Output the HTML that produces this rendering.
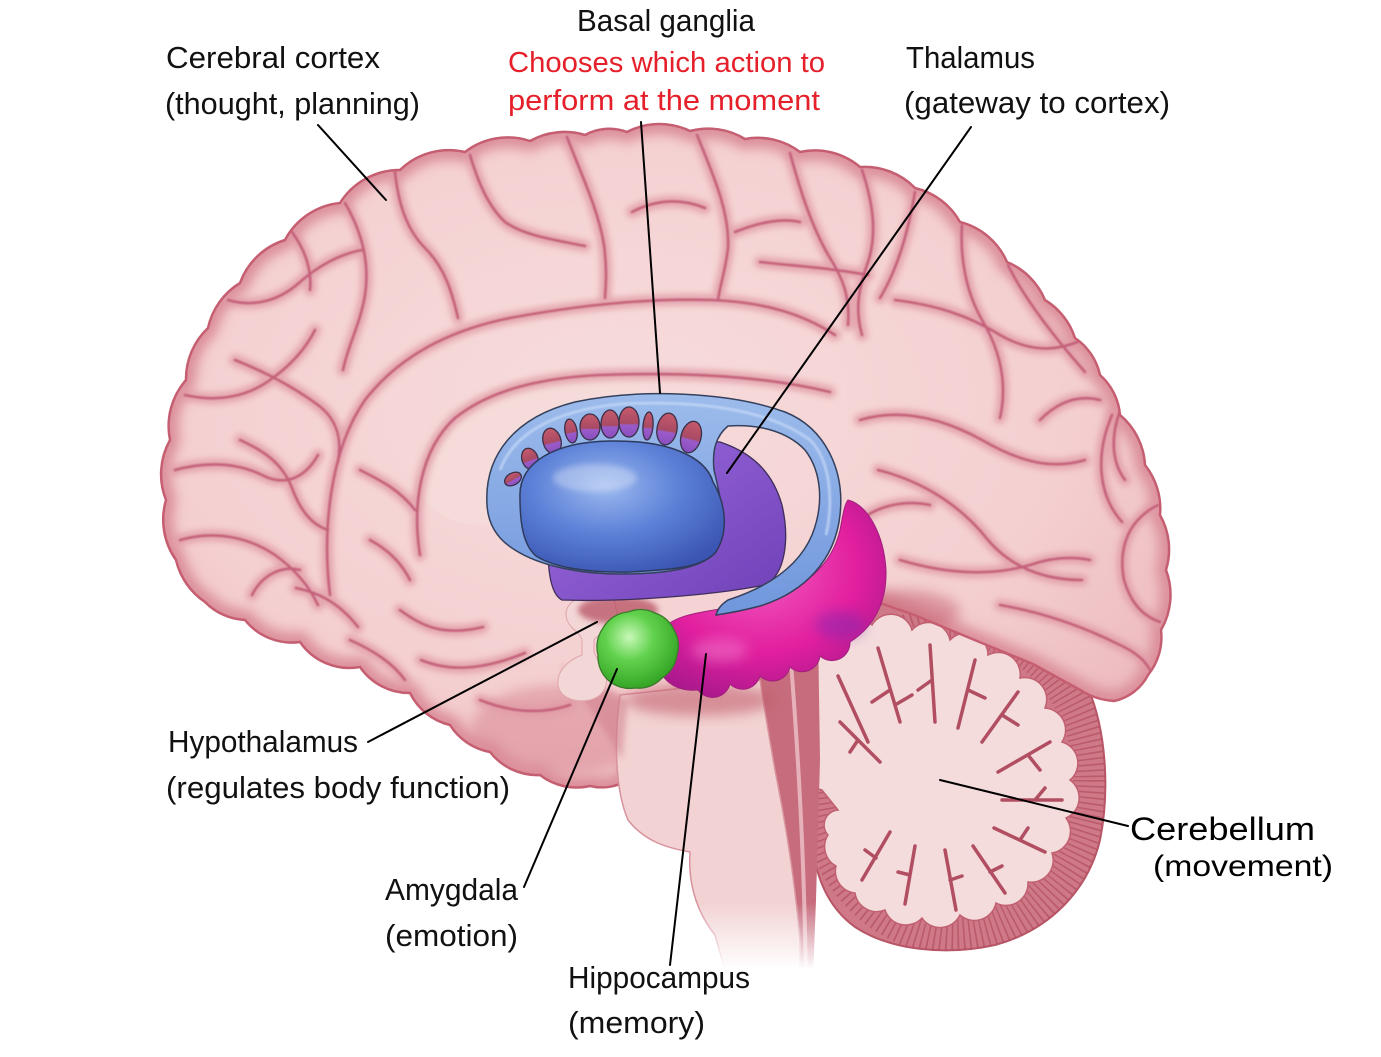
<!DOCTYPE html>
<html><head><meta charset="utf-8">
<style>
html,body{margin:0;padding:0;background:#fff;}
svg{display:block;}
text{font-family:"Liberation Sans",sans-serif;}
</style></head><body>
<svg width="1381" height="1057" viewBox="0 0 1381 1057" xmlns="http://www.w3.org/2000/svg">
<defs>
 <radialGradient id="gPink" cx="0.45" cy="0.42" r="0.65">
   <stop offset="0" stop-color="#f7dcdc"/>
   <stop offset="0.7" stop-color="#f4cfd0"/>
   <stop offset="1" stop-color="#edbcc1"/>
 </radialGradient>
 <radialGradient id="gBody" cx="0.42" cy="0.35" r="0.7">
   <stop offset="0" stop-color="#9cb9ef"/>
   <stop offset="0.5" stop-color="#5e82d8"/>
   <stop offset="1" stop-color="#3a56b2"/>
 </radialGradient>
 <linearGradient id="gRing" x1="0" y1="0" x2="0" y2="1">
   <stop offset="0" stop-color="#9dbcec"/>
   <stop offset="1" stop-color="#7096dc"/>
 </linearGradient>
 <linearGradient id="gPurple" x1="0" y1="0" x2="1" y2="1">
   <stop offset="0" stop-color="#9e6ee0"/>
   <stop offset="1" stop-color="#7040b8"/>
 </linearGradient>
 <radialGradient id="gMag" cx="0.45" cy="0.35" r="0.7">
   <stop offset="0" stop-color="#f25cc0"/>
   <stop offset="0.6" stop-color="#e21f9f"/>
   <stop offset="1" stop-color="#a8188c"/>
 </radialGradient>
 <radialGradient id="gGreen" cx="0.4" cy="0.35" r="0.65">
   <stop offset="0" stop-color="#c8f8b8"/>
   <stop offset="0.45" stop-color="#62d24e"/>
   <stop offset="1" stop-color="#35a526"/>
 </radialGradient>
 <linearGradient id="gHole" x1="0" y1="0" x2="0" y2="1">
   <stop offset="0" stop-color="#c65a6c"/>
   <stop offset="0.55" stop-color="#a84a64"/>
   <stop offset="0.6" stop-color="#9a5cc8"/>
   <stop offset="1" stop-color="#8a4ec0"/>
 </linearGradient>
 <linearGradient id="fadeG" x1="0" y1="0" x2="0" y2="1">
   <stop offset="0" stop-color="#fff"/>
   <stop offset="0.72" stop-color="#fff"/>
   <stop offset="0.88" stop-color="#000"/>
   <stop offset="1" stop-color="#000"/>
 </linearGradient>
 <mask id="bsMask" maskUnits="userSpaceOnUse" x="580" y="600" width="260" height="420">
   <rect x="580" y="600" width="260" height="420" fill="url(#fadeG)"/>
 </mask>
 <filter id="b1" x="-10%" y="-10%" width="120%" height="120%"><feGaussianBlur stdDeviation="0.7"/></filter>
 <filter id="b3" x="-20%" y="-20%" width="140%" height="140%"><feGaussianBlur stdDeviation="3"/></filter>
 <filter id="b6" x="-30%" y="-30%" width="160%" height="160%"><feGaussianBlur stdDeviation="6"/></filter>

 <path id="cereb" d="M 205,602
  A 70 70 0 0 1 176,560 A 70 70 0 0 1 166,500 A 70 70 0 0 1 170,440
  A 70 70 0 0 1 186,380 A 70 70 0 0 1 208,328 A 70 70 0 0 1 240,283
  A 70 70 0 0 1 285,240 A 70 70 0 0 1 340,203 A 70 70 0 0 1 400,170
  A 70 70 0 0 1 465,152 A 70 70 0 0 1 530,141 A 70 70 0 0 1 585,135
  A 50 50 0 0 1 627,132 A 70 70 0 0 1 690,131 A 70 70 0 0 1 745,139
  A 70 70 0 0 1 800,152 A 70 70 0 0 1 860,167 A 70 70 0 0 1 915,188
  A 70 70 0 0 1 960,222 A 70 70 0 0 1 1007,262 A 70 70 0 0 1 1045,300
  A 70 70 0 0 1 1075,338 A 60 60 0 0 1 1100,375 A 60 60 0 0 1 1120,415
  A 70 70 0 0 1 1145,465 A 70 70 0 0 1 1160,515 A 70 70 0 0 1 1166,570
  A 70 70 0 0 1 1161,630 A 60 60 0 0 1 1148,675 A 50 50 0 0 1 1114,701
  C 1100,700 1090,696 1082,691 L 1033,664 L 977,641 L 912,614 L 871,600
  L 850,598 L 830,602 L 800,640 L 760,660 L 700,690 L 640,720 L 628,780
  A 50 50 0 0 1 590,786 A 60 60 0 0 1 540,775 A 60 60 0 0 1 490,752
  A 60 60 0 0 1 450,725 A 60 60 0 0 1 410,693 A 60 60 0 0 1 360,667
  A 60 60 0 0 1 300,642 A 60 60 0 0 1 245,620 A 60 60 0 0 1 205,602 Z"/>
 <clipPath id="cerebClip"><use href="#cereb"/></clipPath>

 <path id="cbl" d="M 800,700 L 810,640 L 850,592 L 900,592 L 975,622 L 1040,652 L 1088,688
   C 1106,730 1110,790 1100,840 C 1088,890 1050,930 995,945 C 945,956 890,950 855,927
   C 826,906 813,872 811,830 C 809,790 805,740 800,700 Z"/>
 <clipPath id="cblClip"><use href="#cbl"/></clipPath>

 <g id="sulci" fill="none" stroke-linecap="round">
  <path d="M 330,595 C 322,530 330,450 365,400 C 400,355 450,330 510,318 C 580,305 650,298 712,300 C 760,302 800,312 835,335"/>
  <path d="M 420,555 C 412,505 420,450 455,418 C 490,390 540,378 600,375 C 680,372 760,375 830,392"/>
  <path d="M 175,470 C 205,462 235,462 262,475 C 285,487 305,478 318,455"/>
  <path d="M 185,395 C 215,402 245,398 270,380 C 290,366 305,350 315,330"/>
  <path d="M 228,300 C 255,308 280,300 300,282 C 318,266 340,254 362,250"/>
  <path d="M 292,232 C 305,250 312,270 310,290"/>
  <path d="M 395,172 C 398,200 405,228 425,248 C 445,268 452,292 458,318"/>
  <path d="M 345,203 C 362,232 370,262 365,295 C 360,325 348,345 343,370"/>
  <path d="M 235,360 C 265,372 295,388 318,405 C 338,420 342,440 338,462"/>
  <path d="M 180,540 C 215,530 248,537 275,555 C 296,570 310,588 318,605"/>
  <path d="M 240,440 C 262,450 282,462 292,488 C 300,510 312,525 328,530"/>
  <path d="M 470,155 C 478,182 488,206 505,222 C 525,236 555,240 585,246"/>
  <path d="M 252,595 C 262,575 282,565 300,570"/>
  <path d="M 567,137 C 580,172 598,208 604,245 C 607,268 606,282 605,298"/>
  <path d="M 697,135 C 712,172 730,212 728,248 C 726,268 720,285 718,300"/>
  <path d="M 632,212 C 655,200 680,198 705,208"/>
  <path d="M 790,153 C 800,190 812,228 830,258 C 845,282 850,300 848,325"/>
  <path d="M 735,232 C 760,222 782,218 800,222"/>
  <path d="M 760,262 C 795,266 830,268 868,275"/>
  <path d="M 862,170 C 872,200 878,232 868,262 C 858,290 855,310 862,335"/>
  <path d="M 915,192 C 908,232 898,268 880,298"/>
  <path d="M 962,225 C 960,255 965,290 982,320 C 1000,350 1008,382 1000,418"/>
  <path d="M 1008,265 C 1025,300 1055,338 1085,372"/>
  <path d="M 895,300 C 935,305 968,315 1000,335 C 1030,352 1055,352 1082,340"/>
  <path d="M 860,420 C 900,408 942,418 982,440 C 1020,462 1052,470 1085,460"/>
  <path d="M 878,470 C 918,480 958,502 988,540 C 1010,566 1042,580 1082,580"/>
  <path d="M 1112,415 C 1095,455 1098,495 1122,522"/>
  <path d="M 1158,505 C 1128,520 1118,548 1124,580 C 1130,600 1140,615 1160,622"/>
  <path d="M 1000,605 C 1040,612 1080,625 1120,645 C 1135,652 1145,660 1150,670"/>
  <path d="M 900,560 C 940,572 985,578 1030,565 C 1050,558 1070,556 1090,560"/>
  <path d="M 1125,400 C 1110,430 1110,460 1125,480"/>
  <path d="M 296,588 C 315,592 337,600 358,627"/>
  <path d="M 400,610 C 420,625 442,637 483,627"/>
  <path d="M 421,660 C 450,672 483,670 525,653"/>
  <path d="M 480,700 C 510,712 540,715 570,705"/>
  <path d="M 350,640 C 372,650 392,662 405,680"/>
  <path d="M 360,470 C 380,480 400,490 415,510"/>
  <path d="M 370,540 C 385,548 400,560 410,580"/>
  <path d="M 860,520 C 880,505 905,500 930,505"/>
  <path d="M 1040,420 C 1060,400 1080,395 1100,400"/>
 </g>
</defs>

<rect width="1381" height="1057" fill="#fff"/>

<!-- cerebellum -->
<use href="#cbl" fill="#cf7888" stroke="#b85566" stroke-width="2"/>
<g clip-path="url(#cblClip)">
  <ellipse cx="955" cy="780" rx="138" ry="155" fill="none" stroke="#b04e60" stroke-width="40" stroke-dasharray="1.6 4.2" opacity="0.7"/>
</g>
<path fill="#f4dcdc" stroke="#c06070" stroke-width="1.5" d="M 812,680
  A 22 22 0 0 1 835,640 A 22 22 0 0 1 872,625 A 22 22 0 0 1 912,630
  A 22 22 0 0 1 950,640 A 22 22 0 0 1 988,655 A 22 22 0 0 1 1020,678
  A 22 22 0 0 1 1045,708 A 22 22 0 0 1 1062,742 A 22 22 0 0 1 1070,780
  A 22 22 0 0 1 1066,818 A 22 22 0 0 1 1052,853 A 22 22 0 0 1 1028,882
  A 22 22 0 0 1 996,903 A 22 22 0 0 1 960,915 A 22 22 0 0 1 922,918
  A 22 22 0 0 1 885,910 A 22 22 0 0 1 855,893 A 22 22 0 0 1 836,866
  A 22 22 0 0 1 828,835 A 15 15 0 0 1 838,810 L 822,790 A 22 22 0 0 1 815,750
  A 22 22 0 0 1 812,680 Z"/>
<g fill="none" stroke="#b24e62" stroke-width="3.5" stroke-linecap="round">
  <path d="M 878,648 L 900,722 M 890,690 L 872,702 M 895,705 L 912,695"/>
  <path d="M 930,645 L 935,722 M 932,680 L 918,690"/>
  <path d="M 975,660 L 958,728 M 968,690 L 985,698"/>
  <path d="M 1018,692 L 982,742 M 1002,715 L 1018,725"/>
  <path d="M 1050,742 L 998,772 M 1028,755 L 1040,770"/>
  <path d="M 1062,800 L 1002,800 M 1035,800 L 1045,788"/>
  <path d="M 1045,852 L 994,828 M 1020,840 L 1028,828"/>
  <path d="M 1005,893 L 973,846 M 990,872 L 1002,866"/>
  <path d="M 956,910 L 945,850 M 950,880 L 962,876"/>
  <path d="M 905,904 L 915,846 M 910,875 L 898,872"/>
  <path d="M 862,880 L 890,832 M 876,858 L 865,850"/>
  <path d="M 840,722 L 880,762 M 858,740 L 850,752"/>
  <path d="M 838,676 L 868,742"/>
</g>

<!-- cerebrum -->
<use href="#cereb" fill="url(#gPink)"/>
<g clip-path="url(#cerebClip)">
  <use href="#cereb" fill="none" stroke="#db8e9a" stroke-width="20" filter="url(#b6)"/>
  <ellipse cx="560" cy="730" rx="90" ry="45" fill="#d98894" opacity="0.55" filter="url(#b6)"/>
  <ellipse cx="900" cy="612" rx="60" ry="22" fill="#c86878" opacity="0.55" filter="url(#b6)"/>
  <path d="M 417,470 C 420,430 450,400 517,385 C 560,378 600,378 640,380 L 640,400 L 500,522 C 470,530 440,520 425,500 C 418,490 417,480 417,470 Z" fill="#f5dbd9"/>
  <use href="#sulci" stroke="#e09aa5" stroke-width="12" opacity="0.75" filter="url(#b3)"/>
  <use href="#sulci" stroke="#c4617a" stroke-width="2.6" filter="url(#b1)"/>
</g>
<use href="#cereb" fill="none" stroke="#c65e71" stroke-width="2.5"/>

<!-- brainstem -->
<g mask="url(#bsMask)">
  <path d="M 745,640 L 818,628 L 820,760 L 816,900 L 812,1005 L 760,1005 Z" fill="#c66c7c"/>
  <path d="M 620,695 C 614,740 615,790 628,820 C 645,842 668,848 690,852 C 688,880 695,910 715,935 L 735,1005 L 800,1005 L 800,940 C 795,880 785,820 775,770 C 768,730 763,700 760,680 Z" fill="#f2d2d2" stroke="#d7929d" stroke-width="1.5"/>
  <path d="M 790,650 C 798,750 804,850 806,980" fill="none" stroke="#e6b2ba" stroke-width="4"/>
</g>
<ellipse cx="700" cy="700" rx="75" ry="16" fill="#bf5868" opacity="0.55" filter="url(#b6)"/>
<path d="M 560,665 C 575,690 600,720 622,760 L 628,700 Z" fill="#cf7c8a" opacity="0.5" filter="url(#b3)"/>

<!-- hypothalamus / pituitary pale -->
<path d="M 585,598 C 572,598 563,608 567,620 C 571,630 580,632 582,640 L 582,655 C 568,660 556,672 558,685 C 560,698 575,703 590,700 C 605,696 610,683 604,670 C 600,662 596,658 594,652 L 594,640 C 600,632 612,630 618,620 L 614,598 Z" fill="#f3d6d6" stroke="#dfa6ae" stroke-width="1"/>

<ellipse cx="618" cy="610" rx="40" ry="14" fill="#b44a5c" opacity="0.7" filter="url(#b3)"/>

<!-- purple -->
<path d="M 548,548 C 548,575 552,595 562,600 C 620,602 710,596 765,585 C 785,575 790,540 782,505 C 772,470 750,452 720,442 L 600,430 Z" fill="url(#gPurple)" stroke="#3e2e5a" stroke-width="1.3"/>

<!-- magenta hippocampus -->
<path d="M 664,628 C 680,610 720,612 765,600 C 805,588 832,565 840,530 C 843,515 844,505 848,500 C 868,505 884,535 886,570 C 887,605 872,628 850,642 A 18 18 0 0 1 820,656 A 18 18 0 0 1 790,667 A 18 18 0 0 1 760,676 A 18 18 0 0 1 730,684 A 18 18 0 0 1 698,690 C 675,692 660,680 657,660 C 655,648 658,636 664,628 Z" fill="url(#gMag)" stroke="#a0207c" stroke-width="1"/>
<ellipse cx="840" cy="625" rx="25" ry="14" fill="#7a2ab0" opacity="0.45" filter="url(#b6)"/>
<ellipse cx="720" cy="650" rx="28" ry="12" fill="#f27ccc" opacity="0.5" filter="url(#b6)"/>

<!-- green amygdala -->
<path d="M 603,628 A 32 32 0 0 1 628,612 A 32 32 0 0 1 655,613 A 32 32 0 0 1 674,630 A 32 32 0 0 1 677,655 A 32 32 0 0 1 662,678 A 32 32 0 0 1 635,688 A 32 32 0 0 1 608,680 A 32 32 0 0 1 598,655 A 32 32 0 0 1 603,628 Z" fill="url(#gGreen)" stroke="#3a7a2a" stroke-width="1.3"/>

<!-- blue: ring + band + base -->
<path d="M 487,505 C 484,455 515,417 575,402 C 640,388 730,392 785,412 C 825,428 845,470 840,515 C 835,560 805,592 760,606 C 745,610 730,613 716,615 C 718,608 722,604 728,600 C 765,588 798,568 812,535 C 824,505 822,472 805,450 C 786,430 756,424 728,426 C 716,436 712,450 714,470 C 720,495 728,525 716,552 C 700,570 660,574 620,574 C 580,574 540,566 515,550 C 495,538 488,522 487,505 Z" fill="url(#gRing)" stroke="#34405c" stroke-width="1.5"/>
<path d="M 500,470 C 515,430 560,410 620,404 C 700,400 770,410 810,440 C 830,460 834,500 826,535" fill="none" stroke="#c4d8f6" stroke-width="3" opacity="0.7" filter="url(#b1)"/>
<g fill="url(#gHole)" stroke="#3a3048" stroke-width="1.3">
  <ellipse cx="513" cy="479" rx="9" ry="6" transform="rotate(-30 513 479)"/>
  <ellipse cx="530" cy="459" rx="8" ry="11" transform="rotate(-20 530 459)"/>
  <ellipse cx="552" cy="441" rx="9" ry="13" transform="rotate(-15 552 441)"/>
  <ellipse cx="571" cy="431" rx="6" ry="12" transform="rotate(-10 571 431)"/>
  <ellipse cx="590" cy="427" rx="10" ry="13"/>
  <ellipse cx="610" cy="424" rx="9" ry="14"/>
  <ellipse cx="629" cy="422" rx="10" ry="15"/>
  <ellipse cx="648" cy="426" rx="5" ry="14" transform="rotate(5 648 426)"/>
  <ellipse cx="667" cy="429" rx="10" ry="16" transform="rotate(10 667 429)"/>
  <ellipse cx="691" cy="437" rx="10" ry="16" transform="rotate(15 691 437)"/>
</g>
<path d="M 520,498 C 518,462 555,442 610,441 C 665,440 705,455 713,482 C 725,502 730,532 715,553 C 700,569 665,570 630,572 C 590,573 555,568 536,556 C 523,545 520,522 520,498 Z" fill="url(#gBody)" stroke="#2e3a5c" stroke-width="1.5"/>
<ellipse cx="595" cy="478" rx="42" ry="14" fill="#ffffff" opacity="0.3" filter="url(#b3)"/>

<!-- connector lines -->
<g stroke="#000" stroke-width="2" stroke-linecap="round">
  <line x1="318" y1="125" x2="386" y2="200"/>
  <line x1="641" y1="122" x2="660" y2="393"/>
  <line x1="971" y1="127" x2="727" y2="473"/>
  <line x1="368" y1="742" x2="597" y2="622"/>
  <line x1="524" y1="887" x2="617" y2="669"/>
  <line x1="670" y1="965" x2="706" y2="654"/>
  <line x1="940" y1="780" x2="1128" y2="826"/>
</g>

<!-- labels -->
<g fill="#111" font-size="31">
  <text x="577" y="31" textLength="178" lengthAdjust="spacingAndGlyphs">Basal ganglia</text>
  <text x="166" y="68" textLength="214" lengthAdjust="spacingAndGlyphs">Cerebral cortex</text>
  <text x="165" y="114" textLength="255" lengthAdjust="spacingAndGlyphs">(thought, planning)</text>
  <text x="906" y="68" textLength="129" lengthAdjust="spacingAndGlyphs">Thalamus</text>
  <text x="904" y="113" textLength="266" lengthAdjust="spacingAndGlyphs">(gateway to cortex)</text>
  <text x="168" y="752" textLength="190" lengthAdjust="spacingAndGlyphs">Hypothalamus</text>
  <text x="166" y="798" textLength="344" lengthAdjust="spacingAndGlyphs">(regulates body function)</text>
  <text x="385" y="900" textLength="133" lengthAdjust="spacingAndGlyphs">Amygdala</text>
  <text x="385" y="946" textLength="133" lengthAdjust="spacingAndGlyphs">(emotion)</text>
  <text x="568" y="988" textLength="182" lengthAdjust="spacingAndGlyphs">Hippocampus</text>
  <text x="568" y="1033" textLength="137" lengthAdjust="spacingAndGlyphs">(memory)</text>
</g>
<g fill="#000" font-size="32">
  <text x="1130" y="840" textLength="185" lengthAdjust="spacingAndGlyphs">Cerebellum</text>
  <text x="1153" y="876" font-size="30" textLength="180" lengthAdjust="spacingAndGlyphs">(movement)</text>
</g>
<g fill="#e5202a" font-size="29">
  <text x="508" y="72" textLength="317" lengthAdjust="spacingAndGlyphs">Chooses which action to</text>
  <text x="508" y="110" textLength="312" lengthAdjust="spacingAndGlyphs">perform at the moment</text>
</g>
</svg>
</body></html>
